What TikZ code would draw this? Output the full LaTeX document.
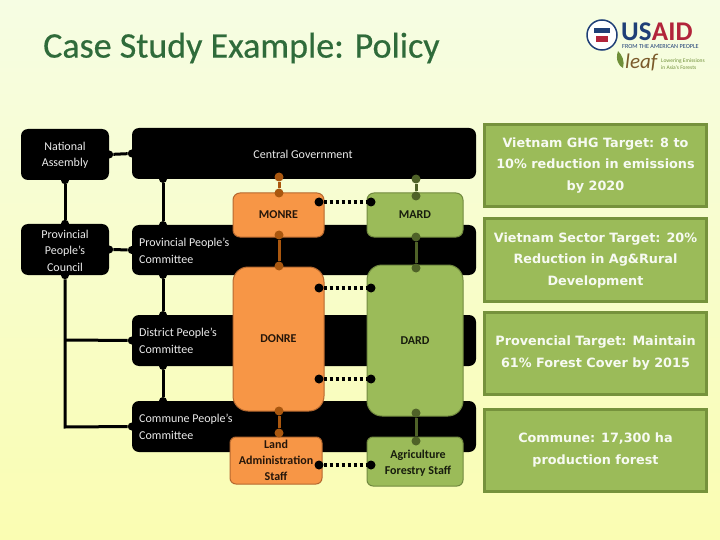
\documentclass[tikz,border=0pt]{standalone}
\usepackage{fontspec}
\setmainfont{Carlito}
\newfontfamily\titlefont[FakeBold=0.5]{Carlito}
\newfontfamily\boxfont{DejaVu Sans}
\usetikzlibrary{positioning,calc}
\definecolor{bgtop}{HTML}{F6FDE3}
\definecolor{bgmid}{HTML}{FAFDCC}
\definecolor{bgbot}{HTML}{FAFDB2}
\definecolor{titlegreen}{HTML}{2F6B3A}
\definecolor{orangebox}{HTML}{F79646}
\definecolor{orangeline}{HTML}{B5682F}
\definecolor{orangedot}{HTML}{A9570F}
\definecolor{greenbox}{HTML}{9BBB59}
\definecolor{greenline}{HTML}{71893F}
\definecolor{greendot}{HTML}{4F6228}
\definecolor{targetline}{HTML}{76923C}
\definecolor{usblue}{HTML}{1F3F77}
\definecolor{usred}{HTML}{B2243A}
\definecolor{leafbrown}{HTML}{7A5A2A}
\definecolor{leafgreen}{HTML}{6F8F38}
\tikzset{
  levelbox/.style={fill=black, rounded corners=7pt, inner sep=0pt},
  leveltext/.style={text=white!92!black, inner sep=0pt, font=\fontsize{12}{16.5}\selectfont},
  orangeorg/.style={fill=orangebox, draw=orangeline, line width=1pt, inner sep=0pt, font=\bfseries\fontsize{12}{16}\selectfont, text=black!85!orangebox, align=center},
  greenorg/.style={fill=greenbox, draw=greenline, line width=1pt, inner sep=0pt, font=\bfseries\fontsize{12}{16}\selectfont, text=black!85!greenbox, align=center},
  targetnode/.style={fill=greenbox, draw=targetline, line width=3pt, text=white!92!greenbox, align=center, font=\boxfont\bfseries\fontsize{12.8}{21.5}\selectfont, minimum width=222pt, minimum height=82pt},
  blackdot/.style={circle, fill=black, inner sep=0pt, minimum size=9pt},
  smalldot/.style={circle, fill=black, inner sep=0pt, minimum size=8pt},
  odot/.style={circle, fill=orangedot, inner sep=0pt, minimum size=9pt},
  gdot/.style={circle, fill=greendot, inner sep=0pt, minimum size=9pt},
  blackline/.style={line width=3pt, black},
  oline/.style={line width=3pt, orangedot},
  gline/.style={line width=3pt, greendot},
  dotline/.style={line width=3.2pt, black, dash pattern=on 3pt off 3pt},
}
\begin{document}
\begin{tikzpicture}[x=1pt,y=-1pt]
    \useasboundingbox (0,0) rectangle (720,540);
    % background
    \shade[top color=bgtop, middle color=bgmid, bottom color=bgbot] (0,0) rectangle (720,540);

    % title
    \node[anchor=west, inner sep=0pt, text=titlegreen, font=\titlefont\fontsize{36}{40}\selectfont] (title) at (43,48) {Case Study Example: Policy};

    % logos
    \node[circle, draw=usblue, line width=1.5pt, fill=white, minimum size=30pt, inner sep=0pt] (seal) at (602,35) {};
    \fill[usblue] (594,28) rectangle (610,33);
    \fill[usred] (596,36) rectangle (608,42);
    \node[anchor=west, text=usblue, font=\bfseries\fontsize{27}{27}\selectfont, inner sep=0pt] (ustext) at (621,32) {US};
    \node[anchor=west, text=usred, font=\bfseries\fontsize{27}{27}\selectfont, inner sep=0pt] (aidtext) at (ustext.east) {AID};
    \node[anchor=west, text=usblue, font=\fontsize{6.2}{7}\selectfont, inner sep=0pt] (fromtext) at (622,47) {FROM THE AMERICAN PEOPLE};
    \fill[leafgreen] (618,51) .. controls (615,60) and (619,66) .. (623,68) .. controls (625,61) and (622,55) .. (618,51);
    \node[anchor=west, text=leafbrown, font=\itshape\fontsize{21}{21}\selectfont, inner sep=0pt] (leaftext) at (625,62) {leaf};
    \node[anchor=north west, text=leafgreen, align=left, font=\fontsize{5.5}{6.2}\selectfont, inner sep=0pt] (lowertext) at (661,59) {Lowering Emissions\\in Asia's Forests};

    % levels
    \node[levelbox, minimum width=88pt, minimum height=51pt] (assembly) at (65,154.5) {};
    \node[levelbox, minimum width=88pt, minimum height=51pt] (council) at (65,249.5) {};
    \node[levelbox, minimum width=344pt, minimum height=51pt] (central) at (304,153.5) {};
    \node[levelbox, minimum width=344pt, minimum height=50pt] (province) at (304,250) {};
    \node[levelbox, minimum width=344pt, minimum height=51pt] (district) at (304,340.5) {};
    \node[levelbox, minimum width=344pt, minimum height=51pt] (commune) at (304,426.5) {};
    \node[leveltext, align=center] (assemblytext) at (65,155.5) {National\\Assembly};
    \node[leveltext, align=center] (counciltext) at (65,250.5) {Provincial\\People's\\Council};
    \node[leveltext] (centraltext) at (303,154) {Central Government};
    \node[leveltext, anchor=west, align=left] (provincetext) at (139,251) {Provincial People's\\Committee};
    \node[leveltext, anchor=west, align=left] (districttext) at (139,341) {District People's\\Committee};
    \node[leveltext, anchor=west, align=left] (communetext) at (139,427) {Commune People's\\Committee};

    % left connectors
    \coordinate (corner1) at (65,340);
    \coordinate (corner2) at (65,427);
    \node[smalldot] (d1) at (assembly.south) {};
    \node[smalldot] (d2) at (council.north) {};
    \node[smalldot] (d3) at (council.south) {};
    \node[smalldot] (d4) at (assembly.east) {};
    \node[smalldot] (d5) at (central.west) {};
    \node[smalldot] (d6) at (council.east) {};
    \node[smalldot] (d7) at (province.west) {};
    \node[smalldot] (d8) at (district.west) {};
    \node[smalldot] (d9) at (commune.west) {};
    \foreach \p/\q/\ya/\yb in {c1/c2/179/225, c3/c4/275/315, c5/c6/366/401} {
      \node[smalldot] (\p) at (163,\ya) {};
      \node[smalldot] (\q) at (163,\yb) {};
      \draw[blackline] (\p) -- (\q);
    }
    \draw[blackline] (d1) -- (d2);
    \draw[blackline] (d3) -- (corner2) -- (d9);
    \draw[blackline] (corner1) -- (d8);
    \draw[blackline] (d4) -- (d5);
    \draw[blackline] (d6) -- (d7);

    % organisations
    \node[orangeorg, rounded corners=7pt, minimum width=91pt, minimum height=44pt] (monre) at (278.5,215) {MONRE};
    \node[orangeorg, rounded corners=15pt, minimum width=91pt, minimum height=144pt] (donre) at (278.5,339) {DONRE};
    \node[orangeorg, rounded corners=6pt, minimum width=92pt, minimum height=47pt] (land) at (276,460.5) {Land\\Administration\\Staff};
    \node[greenorg, rounded corners=7pt, minimum width=96pt, minimum height=44pt] (mard) at (415,215) {MARD};
    \node[greenorg, rounded corners=15pt, minimum width=96pt, minimum height=151pt] (dard) at (415,340.5) {DARD};
    \node[greenorg, rounded corners=6pt, minimum width=96pt, minimum height=49pt] (agri) at (415,461.5) {};
    \node[align=center, inner sep=0pt, font=\bfseries\fontsize{12}{16}\selectfont, text=black!85!greenbox] (agritext) at (418,463.5) {Agriculture\\Forestry Staff};

    % vertical links
    \foreach \a/\xx/\ya/\yb/\kind in {a/279/177/193/o, b/279/235/266/o, c/279/411/433/o,
        d/416/179/196/g, e/416/237/268/g, f/416/413/441/g} {
      \node[\kind dot] (top\a) at (\xx,\ya) {};
      \node[\kind dot] (bot\a) at (\xx,\yb) {};
      \draw[\kind line] (top\a) -- (bot\a);
    }

    % dotted links
    \foreach \ya in {202, 288, 379, 465} {
      \node[blackdot] (ol\ya) at (319,\ya) {};
      \node[blackdot] (gr\ya) at (371,\ya) {};
      \draw[dotline] (ol\ya) -- (gr\ya);
    }

    % targets
    \node[targetnode] (t1) at (595.5,165.5) {Vietnam GHG Target: 8 to\\10\% reduction in emissions\\by 2020};
    \node[targetnode] (t2) at (595.5,260) {Vietnam Sector Target: 20\%\\Reduction in Ag\&Rural\\Development};
    \node[targetnode] (t3) at (595.5,353) {Provencial Target: Maintain\\61\% Forest Cover by 2015};
    \node[targetnode] (t4) at (595.5,450) {Commune: 17,300 ha\\production forest};
\end{tikzpicture}
\end{document}
